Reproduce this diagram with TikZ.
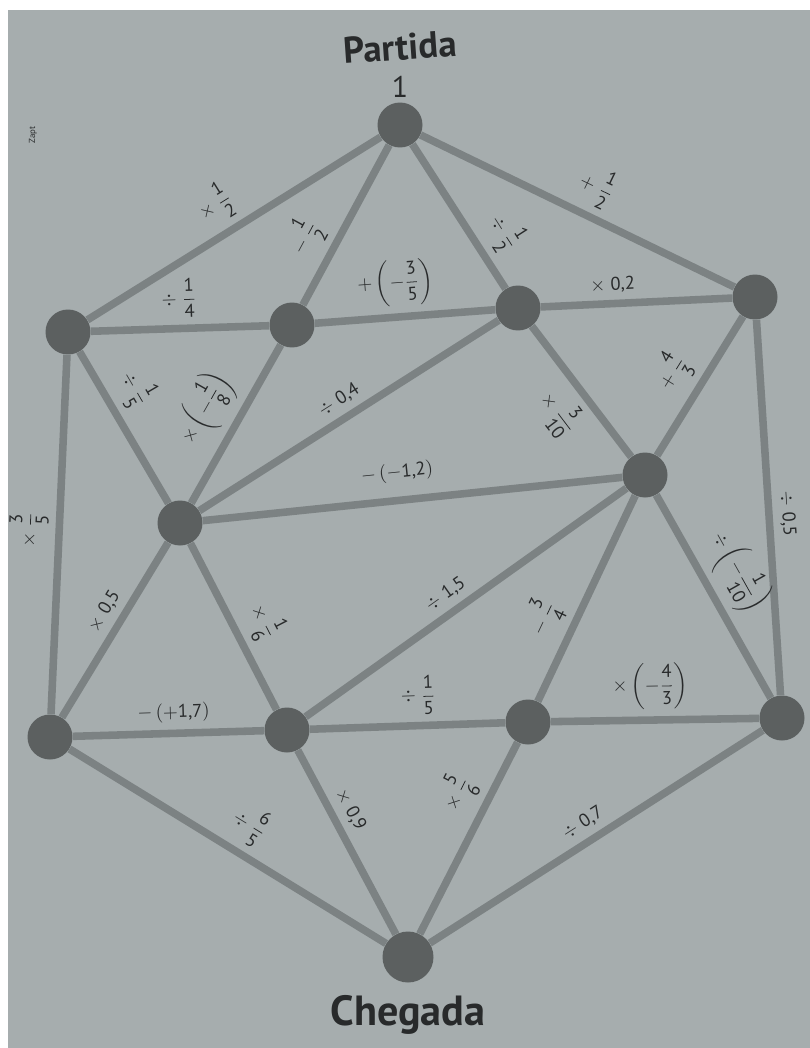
\documentclass[tikz,border=0pt]{standalone}
\usepackage{amsmath}
\usepackage{fontspec}
\setmainfont{PT Sans}
\usetikzlibrary{positioning}
\definecolor{PageGray}{RGB}{166,173,174}
\definecolor{RoadGray}{RGB}{124,130,131}
\definecolor{StopGray}{RGB}{92,96,96}
\definecolor{InkGray}{RGB}{40,42,43}
\newcommand{\opfrac}[2]{\dfrac{\text{#1}}{\text{#2}}}
\newcommand{\opnum}[1]{\text{#1}}
\tikzset{
  road/.style={line width=4.3pt,draw=RoadGray},
  station/.style={circle,fill=StopGray,minimum size=0.9cm,inner sep=0pt},
  oplabel/.style={sloped,above=3pt,font=\fontsize{10.5}{12}\selectfont,text=InkGray,inner sep=1pt},
  oplabelb/.style={sloped,below=3pt,font=\fontsize{10.5}{12}\selectfont,text=InkGray,inner sep=1pt},
  title/.style={font=\fontsize{21}{24}\selectfont\bfseries,text=InkGray}
}

\begin{document}
\begin{tikzpicture}[x=0.02cm,y=-0.02cm]
  \useasboundingbox (0,0) rectangle (810,1048);
  \fill[white] (0,0) rectangle (810,1048);
  \fill[PageGray] (8,10) rectangle (810,1048);
  \node[rotate=90,font=\tiny,text=InkGray] (marca) at (33,135) {Zapt};
  \node[title,rotate=4] (titulo) at (400,47) {Partida};
  \node[font=\fontsize{17}{20}\selectfont,text=InkGray] (valor) at (400,87) {1};
  \node[station] (partida) at (400,125) {};
  \node[station] (oeste) at (68,332) {};
  \node[station] (b1) at (292,325) {};
  \node[station] (c1) at (518,308) {};
  \node[station] (leste) at (755,297) {};
  \node[station] (e1) at (180,523) {};
  \node[station] (f1) at (645,475) {};
  \node[station] (sudoeste) at (50,737) {};
  \node[station] (h1) at (287,730) {};
  \node[station] (i1) at (528,722) {};
  \node[station] (sudeste) at (782,718) {};
  \node[station,minimum size=1.02cm] (chegada) at (408,957) {};
  \node[title,font=\fontsize{24}{28}\selectfont\bfseries] (fim) at (408,1015) {Chegada};

  \draw[road] (oeste) -- node[oplabel,pos=0.49] {$\times\;\opfrac{1}{2}$} (partida);
  \draw[road] (b1) -- node[oplabel,pos=0.33] {$-\;\opfrac{1}{2}$} (partida);
  \draw[road] (partida) -- node[oplabel,pos=0.72] {$\div\;\opfrac{1}{2}$} (c1);
  \draw[road] (partida) -- node[oplabel,pos=0.52] {$+\;\opfrac{1}{2}$} (leste);
  \draw[road] (oeste) -- node[oplabel,pos=0.5] {$\div\;\opfrac{1}{4}$} (b1);
  \draw[road] (b1) -- node[oplabel,pos=0.46] {$+\left(-\opfrac{3}{5}\right)$} (c1);
  \draw[road] (c1) -- node[oplabel,pos=0.38] {$\times\;\opnum{0,2}$} (leste);
  \draw[road] (oeste) -- node[oplabel,pos=0.34] {$\div\;\opfrac{1}{5}$} (e1);
  \draw[road] (e1) -- node[oplabel,pos=0.49] {$\times\left(-\opfrac{1}{8}\right)$} (b1);
  \draw[road] (e1) -- node[oplabel,pos=0.5] {$\div\;\opnum{0,4}$} (c1);
  \draw[road] (c1) -- node[oplabelb,pos=0.52] {$\times\;\opfrac{3}{10}$} (f1);
  \draw[road] (f1) -- node[oplabel,pos=0.48] {$+\;\opfrac{4}{3}$} (leste);
  \draw[road] (leste) -- node[oplabel,pos=0.52] {$\div\;\opnum{0,5}$} (sudeste);
  \draw[road] (sudoeste) -- node[oplabel,pos=0.51] {$\times\;\opfrac{3}{5}$} (oeste);
  \draw[road] (e1) -- node[oplabel,pos=0.47,above=7pt] {$-\,(-\opnum{1,2})$} (f1);
  \draw[road] (sudoeste) -- node[oplabel,pos=0.55] {$\times\;\opnum{0,5}$} (e1);
  \draw[road] (e1) -- node[oplabel,pos=0.55] {$\times\;\opfrac{1}{6}$} (h1);
  \draw[road] (h1) -- node[oplabel,pos=0.47] {$\div\;\opnum{1,5}$} (f1);
  \draw[road] (i1) -- node[oplabel,pos=0.34] {$-\;\opfrac{3}{4}$} (f1);
  \draw[road] (f1) -- node[oplabel,pos=0.46] {$\div\left(-\opfrac{1}{10}\right)$} (sudeste);
  \draw[road] (sudoeste) -- node[oplabel,pos=0.53] {$-\,(+\opnum{1,7})$} (h1);
  \draw[road] (h1) -- node[oplabel,pos=0.56] {$\div\;\opfrac{1}{5}$} (i1);
  \draw[road] (i1) -- node[oplabel,pos=0.48] {$\times\left(-\opfrac{4}{3}\right)$} (sudeste);
  \draw[road] (sudoeste) -- node[oplabel,pos=0.52] {$\div\;\opfrac{6}{5}$} (chegada);
  \draw[road] (h1) -- node[oplabel,pos=0.37] {$\times\;\opnum{0,9}$} (chegada);
  \draw[road] (chegada) -- node[oplabel,pos=0.66] {$\times\;\opfrac{5}{6}$} (i1);
  \draw[road] (chegada) -- node[oplabel,pos=0.49] {$\div\;\opnum{0,7}$} (sudeste);
\end{tikzpicture}
\end{document}
